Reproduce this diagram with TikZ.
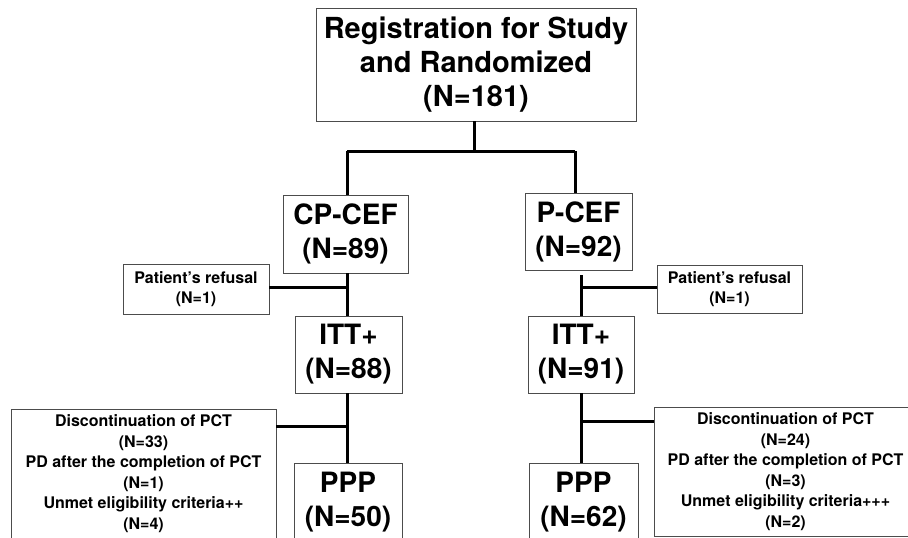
\documentclass[tikz,border=0pt]{standalone}
\usepackage{fontspec}
\setmainfont{TeX Gyre Heros}
\begin{document}
\begin{tikzpicture}[x=1pt,y=-1pt,
  box/.style={draw=black!70,line width=0.9pt,align=center,inner sep=0pt,fill=white},
  bigtxt/.style={font=\fontsize{29}{34}\selectfont\bfseries},
  midtxt/.style={font=\fontsize{28}{34}\selectfont\bfseries},
  smalltxt/.style={font=\fontsize{16}{20.5}\selectfont\bfseries},
  conn/.style={line width=3pt,black}]
\useasboundingbox (0,0) rectangle (908,538);
\clip (0,0) rectangle (908,538);

\node[box,bigtxt,minimum width=320pt,minimum height=113pt] (top) at (476,64.5) {Registration for Study\\and Randomized\\(N=181)};
\node[box,midtxt,minimum width=125pt,minimum height=78pt] (cpcef) at (345.5,234) {CP-CEF\\(N=89)};
\node[box,midtxt,minimum width=107pt,minimum height=77pt] (pcef) at (578.5,231.5) {P-CEF\\(N=92)};
\node[box,smalltxt,minimum width=146pt,minimum height=50pt] (lref) at (196,289) {Patient’s refusal\\(N=1)};
\node[box,smalltxt,minimum width=145pt,minimum height=48pt] (rref) at (729.5,289) {Patient’s refusal\\(N=1)};
\node[box,midtxt,minimum width=107pt,minimum height=77pt] (litt) at (348.5,354.5) {ITT+\\(N=88)};
\node[box,midtxt,minimum width=106pt,minimum height=77pt] (ritt) at (581,354.5) {ITT+\\(N=91)};
\node[box,smalltxt,minimum width=265pt,minimum height=129pt] (ldisc) at (143.5,473.5) {Discontinuation of PCT\\(N=33)\\PD after the completion of PCT\\(N=1)\\Unmet eligibility criteria++\\(N=4)};
\node[box,smalltxt,minimum width=263pt,minimum height=129pt] (rdisc) at (785.5,471.5) {Discontinuation of PCT\\(N=24)\\PD after the completion of PCT\\(N=3)\\Unmet eligibility criteria+++\\(N=2)};
\node[box,midtxt,minimum width=108pt,minimum height=78pt] (lppp) at (348,502) {PPP\\(N=50)};
\node[box,midtxt,minimum width=109pt,minimum height=78pt] (rppp) at (583.5,502) {PPP\\(N=62)};

% top split
\coordinate (tj) at (474,151);
\coordinate (lj1) at (347,151);
\coordinate (rj1) at (575,151);
\draw[conn] ([xshift=-2pt]top.south) -- (tj);
\draw[conn] (lj1) -- (rj1);
\draw[conn] (lj1) -- (lj1 |- cpcef.north);
\draw[conn] (rj1) -- (rj1 |- pcef.north);

% left column
\coordinate (lc) at (347,0);
\draw[conn] (lc |- cpcef.south) -- (lc |- litt.north);
\draw[conn] ([yshift=2pt]lref.east) -- ([yshift=2pt]lref.east -| lc);
\draw[conn] (lc |- litt.south) -- (lc |- lppp.north);
\draw[conn] (ldisc.east |- 0,426) -- (lc |- 0,426);

% right column
\coordinate (rc) at (581.5,0);
\draw[conn] (rc |- 0,275) -- (rc |- ritt.north);
\draw[conn] ([yshift=2pt]rref.west) -- ([yshift=2pt]rref.west -| rc);
\draw[conn] (rc |- ritt.south) -- (rc |- rppp.north);
\draw[conn] (rdisc.west |- 0,421) -- (rc |- 0,421);
\end{tikzpicture}
\end{document}
